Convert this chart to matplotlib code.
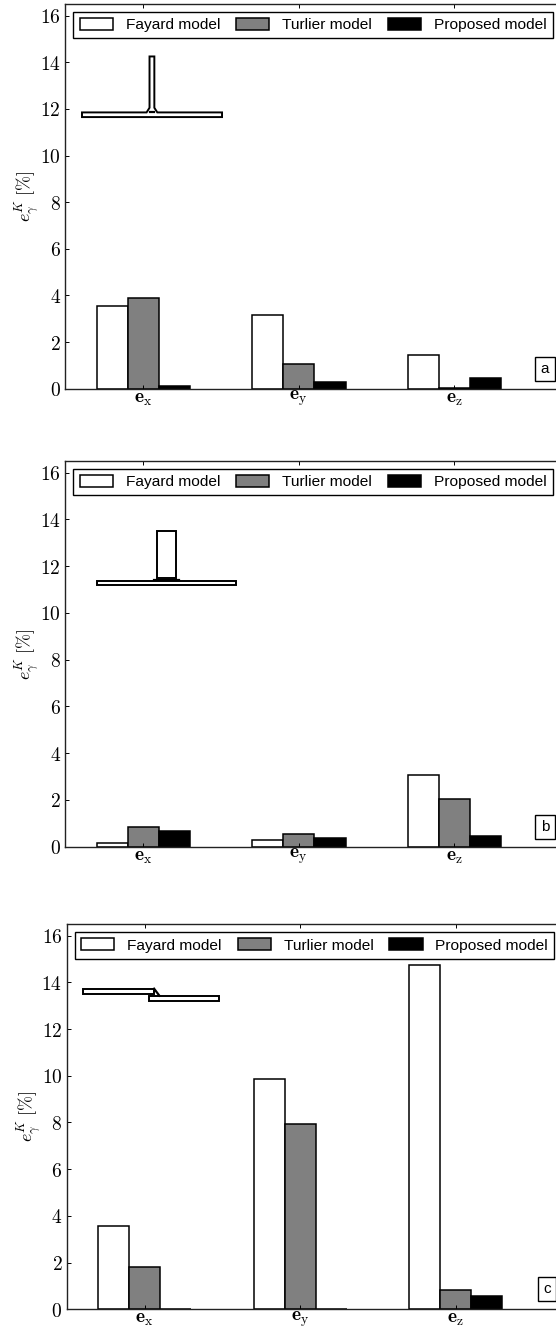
#!/usr/bin/env python3
"""Kinematic error bars for three cross sections, one panel per section."""

from __future__ import annotations

import matplotlib

matplotlib.use("Agg")

import matplotlib.pyplot as plt
import numpy as np
from matplotlib.patches import Polygon

WIDTH, HEIGHT = 556, 1328

directions = [r"$\mathbf{e}_{\mathrm{x}}$", r"$\mathbf{e}_{\mathrm{y}}$", r"$\mathbf{e}_{\mathrm{z}}$"]
y_ticks = [0, 2, 4, 6, 8, 10, 12, 14, 16]
model_names = ["Fayard model", "Turlier model", "Proposed model"]
model_colors = ["white", "gray", "black"]
panel_labels = ["a", "b", "c"]

fayard_a = [3.56, 3.15, 1.46]
turlier_a = [3.88, 1.04, 0.05]
proposed_a = [0.13, 0.30, 0.45]

fayard_b = [0.13, 0.27, 3.07]
turlier_b = [0.83, 0.53, 2.03]
proposed_b = [0.67, 0.35, 0.43]

fayard_c = [3.58, 9.88, 14.75]
turlier_c = [1.80, 7.95, 0.82]
proposed_c = [0.0, 0.0, 0.58]

# section sketches, in axis units: closed outlines, then open strokes
section_a = [[(-0.394, 11.65), (0.506, 11.65), (0.506, 11.85), (0.09, 11.85), (0.071, 12.05),
              (0.071, 14.25), (0.04, 14.25), (0.04, 12.05), (0.021, 11.85), (-0.394, 11.85)]]
strokes_a = [[(0.045, 11.88), (0.066, 11.88)]]
section_b = [[(-0.298, 11.2), (0.593, 11.2), (0.593, 11.38), (-0.298, 11.38)],
             [(0.086, 11.5), (0.086, 13.5), (0.212, 13.5), (0.212, 11.5)]]
strokes_b = [[(0.07, 11.4), (0.227, 11.4)]]
section_c = [[(-0.393, 13.49), (0.061, 13.49), (0.061, 13.73), (-0.393, 13.73)],
             [(0.027, 13.19), (0.48, 13.19), (0.48, 13.43), (0.027, 13.43)]]
strokes_c = [[(0.061, 13.73), (0.095, 13.43)]]


def draw_panel(fig, left, top, bottom, center, legend_xy, box_xy, values, section, strokes, label):
    # axes run past the right edge of the picture, as in the original
    x_scale = 155.6
    right = center + 3 * x_scale
    ax = fig.add_axes([left / WIDTH, 1 - bottom / HEIGHT, (right - left) / WIDTH, (bottom - top) / HEIGHT])

    x = np.arange(3)
    bars = []
    for i, series in enumerate(values):
        bars.append(ax.bar(x - 0.2 + 0.2 * i, series, 0.2, color=model_colors[i], edgecolor="black", linewidth=1.1))

    for outline in section:
        ax.add_patch(Polygon(outline, closed=True, fill=False, edgecolor="black", linewidth=1.4, zorder=3))
    for stroke in strokes:
        ax.plot(*zip(*stroke), color="black", linewidth=1.6, zorder=3)

    ax.set_xlim((left - center) / x_scale, 3)
    ax.set_ylim(0, 16.5)
    ax.set_xticks(x, directions, fontsize=14)
    ax.set_yticks(y_ticks, [f"${v}$" for v in y_ticks], fontsize=14)
    ax.tick_params(axis="both", direction="in", length=3, width=0.7, top=True, right=False)
    ax.tick_params(axis="x", pad=0)
    ax.tick_params(axis="y", pad=3)
    ax.set_ylabel(r"$e_{\gamma}^{K}\ [\%]$", fontsize=13)
    ax.yaxis.set_label_coords(-23 / (right - left), 0.5)
    for spine in ax.spines.values():
        spine.set_linewidth(1.0)
        spine.set_color("#222222")

    ax.legend(
        [b[0] for b in bars],
        model_names,
        ncol=3,
        loc="upper left",
        bbox_to_anchor=(legend_xy[0] / WIDTH, 1 - legend_xy[1] / HEIGHT),
        bbox_transform=fig.transFigure,
        borderaxespad=0,
        fancybox=False,
        framealpha=1,
        edgecolor="black",
        prop={"family": "Liberation Sans", "size": 11.15},
        handlelength=2.15,
        handleheight=0.75,
        handletextpad=0.82,
        columnspacing=1.03,
        borderpad=0.4,
    ).get_frame().set_linewidth(1.0)

    fig.text(
        box_xy[0] / WIDTH,
        1 - box_xy[1] / HEIGHT,
        label,
        ha="center",
        va="center",
        family="Liberation Sans",
        fontsize=11,
        bbox={"boxstyle": "square,pad=0.35", "facecolor": "white", "edgecolor": "black", "linewidth": 1.0},
    )


def main() -> None:
    plt.rcParams["mathtext.fontset"] = "cm"
    fig = plt.figure(figsize=(WIDTH / 100, HEIGHT / 100), dpi=100)

    draw_panel(fig, 65, 4, 388.7, 143.3, (73.4, 12), (545, 369),
               [fayard_a, turlier_a, proposed_a], section_a, strokes_a, panel_labels[0])
    draw_panel(fig, 65, 461, 846.5, 143.3, (73.4, 469), (545, 827),
               [fayard_b, turlier_b, proposed_b], section_b, strokes_b, panel_labels[1])
    draw_panel(fig, 66.5, 924, 1309.3, 144.6, (75, 932.3), (547, 1289),
               [fayard_c, turlier_c, proposed_c], section_c, strokes_c, panel_labels[2])

    fig.savefig("out.png", dpi=100)


if __name__ == "__main__":
    main()
